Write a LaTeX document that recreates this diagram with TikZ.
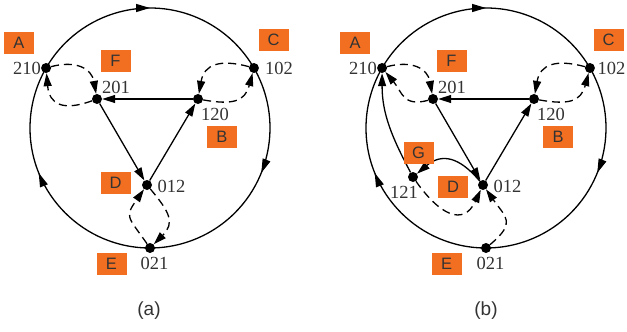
\documentclass[tikz,border=0pt]{standalone}
\usepackage{fontspec}
\setmainfont{Liberation Serif}
\newfontfamily\arialf{Liberation Sans}
\usetikzlibrary{arrows.meta,decorations.markings}
\definecolor{tagorange}{HTML}{F26F21}
\definecolor{txtgray}{HTML}{333333}
\begin{document}
\begin{tikzpicture}[x=1pt,y=1pt,
  ptdot/.style={circle, fill=black, inner sep=0pt, minimum size=10pt},
  numlabel/.style={font=\fontsize{18.5}{18.5}\selectfont, text=txtgray, inner sep=0pt},
  lettag/.style={fill=tagorange, minimum width=30pt, minimum height=22pt, inner sep=0pt, font=\arialf\fontsize{16.5}{16.5}\selectfont, text=txtgray},
  solidarr/.style={line width=1.3pt, -{Triangle[length=13pt,width=8pt]}},
  dasharr/.style={solidarr, dash pattern=on 8pt off 5pt},
  circline/.style={line width=1.3pt},
  midarrow/.style={postaction={decorate}, decoration={markings, mark=at position #1 with {\arrow{Triangle[length=14pt,width=8pt]}}}},
  capfont/.style={font=\arialf\fontsize{19}{19}\selectfont, text=txtgray, inner sep=0pt}
]
\useasboundingbox (0,0) rectangle (627,-332);

% ---------- panel (a) ----------
\node[ptdot] (a210) at (46.08,-68) {};
\node[ptdot] (a102) at (253.92,-68) {};
\node[ptdot] (a021) at (150,-248) {};
\node[ptdot] (a201) at (97,-99) {};
\node[ptdot] (a120) at (198,-99) {};
\node[ptdot] (a012) at (147,-185) {};

\draw[circline, midarrow=0.5] (a210.center) arc[start angle=150, end angle=30, radius=120pt];
\draw[circline, midarrow=0.433] (a102.center) arc[start angle=30, end angle=-90, radius=120pt];
\draw[circline, midarrow=0.567] (a021.center) arc[start angle=270, end angle=150, radius=120pt];

\draw[solidarr] (a120) -- (a201);
\draw[solidarr] (a201) -- (a012);
\draw[solidarr] (a012) -- (a120);

\draw[dasharr] (a210) to[out=15, in=100, looseness=1.25] (a201);
\draw[dasharr] (a201) to[out=200, in=-85, looseness=1.5] (a210);
\draw[dasharr] (a102) to[out=165, in=80, looseness=1.35] (a120);
\draw[dasharr] (a120) to[out=-10, in=-105, looseness=1.35] (a102);
\draw[dasharr] (a021) to[out=125, in=-125, looseness=1.6] (a012);
\draw[dasharr] (a012) to[out=-50, in=45, looseness=1.4] (a021);

\node[numlabel] (la210) at (27,-68) {210};
\node[numlabel] (la201) at (116,-87) {201};
\node[numlabel] (la120) at (215,-114) {120};
\node[numlabel] (la102) at (279,-68) {102};
\node[numlabel] (la012) at (171.5,-186) {012};
\node[numlabel] (la021) at (154.5,-263) {021};

\node[lettag] (tA) at (19,-42.5) {A};
\node[lettag] (tF) at (115.5,-60.5) {F};
\node[lettag] (tC) at (273.5,-40) {C};
\node[lettag] (tB) at (222,-137) {B};
\node[lettag] (tD) at (115.5,-182.5) {D};
\node[lettag] (tE) at (111.5,-263.5) {E};

\node[capfont] (capa) at (149,-311) {(a)};

% ---------- panel (b) ----------
\node[ptdot] (b210) at (382.08,-68) {};
\node[ptdot] (b102) at (589.92,-68) {};
\node[ptdot] (b021) at (486,-248) {};
\node[ptdot] (b201) at (433,-99) {};
\node[ptdot] (b120) at (534,-99) {};
\node[ptdot] (b012) at (483,-185) {};
\node[ptdot] (b121) at (413,-177) {};

\draw[circline, midarrow=0.5] (b210.center) arc[start angle=150, end angle=30, radius=120pt];
\draw[circline, midarrow=0.433] (b102.center) arc[start angle=30, end angle=-90, radius=120pt];
\draw[circline, midarrow=0.567] (b021.center) arc[start angle=270, end angle=150, radius=120pt];

\draw[solidarr] (b120) -- (b201);
\draw[solidarr] (b201) -- (b012);
\draw[solidarr] (b012) -- (b120);

\draw[dasharr] (b210) to[out=15, in=100, looseness=1.25] (b201);
\draw[dasharr] (b201) to[out=195, in=-50, looseness=1.3] (b210);
\draw[dasharr] (b102) to[out=165, in=80, looseness=1.35] (b120);
\draw[dasharr] (b120) to[out=-10, in=-105, looseness=1.35] (b102);
\draw[dasharr] (b021) to[out=40, in=-55, looseness=1.6] (b012);
\draw[solidarr] (b012) to[out=130, in=40, looseness=1.3] (b121);
\draw[dasharr] (b121) to[out=-55, in=-115, looseness=1.6] (b012);
\draw[solidarr] (b121) to[out=118, in=-90] (b210);

\node[numlabel] (lb210) at (363,-68) {210};
\node[numlabel] (lb201) at (452,-87) {201};
\node[numlabel] (lb120) at (551,-114) {120};
\node[numlabel] (lb102) at (611.5,-68) {102};
\node[numlabel] (lb012) at (507.5,-186) {012};
\node[numlabel] (lb021) at (490.5,-263) {021};
\node[numlabel] (lb121) at (404,-192.5) {121};

\node[lettag] (uA) at (355,-42.5) {A};
\node[lettag] (uF) at (451.5,-60.5) {F};
\node[lettag] (uC) at (608.5,-40) {C};
\node[lettag] (uB) at (558,-137) {B};
\node[lettag] (uD) at (453,-186.5) {D};
\node[lettag] (uE) at (446.5,-263.5) {E};
\node[lettag] (uG) at (418.5,-152.5) {G};

\node[capfont] (capb) at (486,-311) {(b)};
\end{tikzpicture}
\end{document}
